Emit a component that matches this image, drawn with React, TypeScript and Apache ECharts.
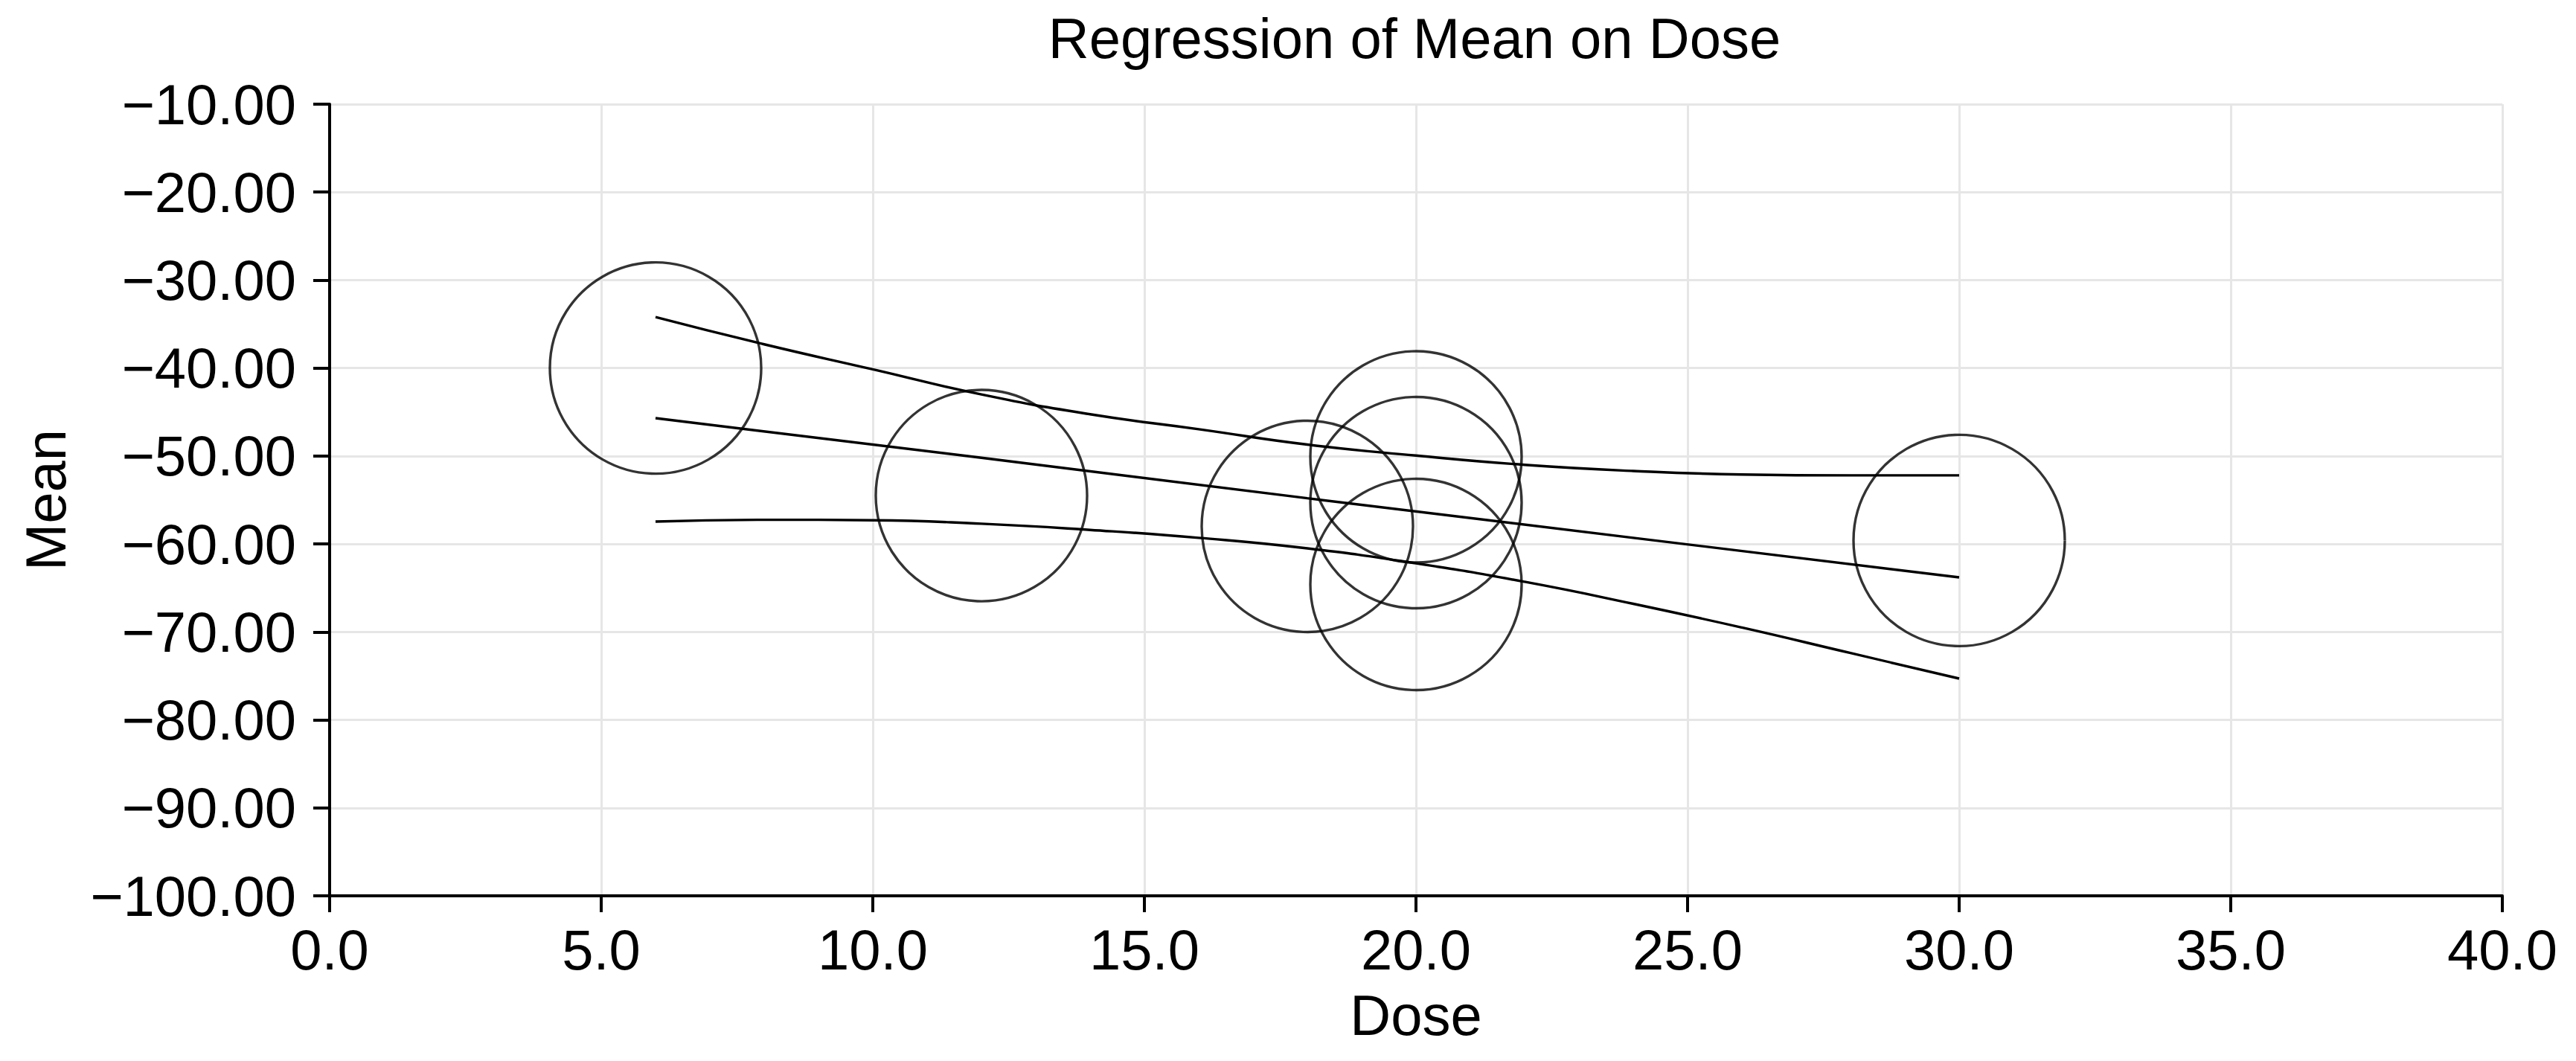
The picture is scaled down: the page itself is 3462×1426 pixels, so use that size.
import React, { useEffect, useRef } from "react";
import * as echarts from "echarts";

const titleText = "Regression of Mean on Dose";
const xName = "Dose";
const yName = "Mean";

// observed points (Dose, Mean)
const doses = [6, 12, 18, 20, 20, 20, 30];
const means = [-40.0, -54.5, -58.0, -50.1, -55.3, -64.6, -59.6];

// fitted regression line
const fitX = [6, 12, 18, 24, 30];
const fitY = [-45.7, -50.2, -54.8, -59.3, -63.8];

// confidence band (upper / lower)
const bandX = [6, 8, 10, 12, 14, 16, 18, 20, 22, 24, 26, 28, 30];
const upperY = [-34.2, -37.3, -40.15, -43.0, -45.25, -46.95, -48.7, -49.95, -51.0, -51.7, -52.1, -52.2, -52.2];
const lowerY = [-57.45, -57.25, -57.3, -57.7, -58.4, -59.3, -60.5, -62.2, -64.3, -66.8, -69.5, -72.4, -75.3];

const FONT = "'Liberation Sans', Arial, Helvetica, sans-serif";
const FS = 76;

export default function App() {
  const ref = useRef<HTMLDivElement>(null);

  useEffect(() => {
    if (!ref.current) return;
    const chart = echarts.init(ref.current, null, { renderer: "svg" });
    const pair = (xs: number[], ys: number[]) => xs.map((x, i) => [x, ys[i]]);
    const lineStyle = { color: "#000", width: 3.4 };
    chart.setOption({
      animation: false,
      backgroundColor: "#fff",
      textStyle: { fontFamily: FONT },
      title: {
        text: titleText,
        left: 1901,
        top: 13,
        padding: 0,
        textAlign: "center",
        textStyle: { fontFamily: FONT, fontSize: FS, fontWeight: "normal", color: "#000" },
      },
      grid: { left: 443, right: 99, top: 140, bottom: 222, containLabel: false },
      xAxis: {
        type: "value",
        min: 0,
        max: 40,
        interval: 5,
        name: xName,
        nameLocation: "middle",
        nameGap: 122,
        nameTextStyle: { fontFamily: FONT, fontSize: FS, color: "#000" },
        axisLine: { show: true, onZero: false, lineStyle: { color: "#000", width: 4 } },
        axisTick: { show: true, length: 22, lineStyle: { color: "#000", width: 4 } },
        axisLabel: {
          margin: 34,
          fontFamily: FONT,
          fontSize: FS,
          color: "#000",
          formatter: (v: number) => v.toFixed(1),
        },
        splitLine: { show: true, lineStyle: { color: "#e6e6e6", width: 3 } },
      },
      yAxis: {
        type: "value",
        min: -100,
        max: -10,
        interval: 10,
        name: yName,
        nameLocation: "middle",
        nameGap: 344,
        nameRotate: 90,
        nameTextStyle: { fontFamily: FONT, fontSize: FS, color: "#000" },
        axisLine: { show: true, onZero: false, lineStyle: { color: "#000", width: 4 } },
        axisTick: { show: true, length: 22, lineStyle: { color: "#000", width: 4 } },
        axisLabel: {
          margin: 45,
          fontFamily: FONT,
          fontSize: FS,
          color: "#000",
          formatter: (v: number) => v.toFixed(2).replace("-", "\u2212"),
        },
        splitLine: { show: true, lineStyle: { color: "#e6e6e6", width: 3 } },
      },
      series: [
        {
          name: "Upper",
          type: "line",
          data: pair(bandX, upperY),
          smooth: true,
          showSymbol: false,
          symbol: "none",
          lineStyle,
          z: 3,
        },
        {
          name: "Fit",
          type: "line",
          data: pair(fitX, fitY),
          smooth: false,
          showSymbol: false,
          symbol: "none",
          lineStyle,
          z: 3,
        },
        {
          name: "Lower",
          type: "line",
          data: pair(bandX, lowerY),
          smooth: true,
          showSymbol: false,
          symbol: "none",
          lineStyle,
          z: 3,
        },
        {
          name: "Observed",
          type: "scatter",
          data: pair(doses, means),
          symbol: "circle",
          symbolSize: 284,
          itemStyle: { color: "rgba(0,0,0,0)", borderColor: "#000", borderWidth: 3.4 },
          z: 4,
        },
      ],
    });
    return () => chart.dispose();
  }, []);

  return (
    <div
      ref={ref}
      style={{ position: "fixed", left: 0, top: 0, width: 3462, height: 1426, background: "#fff" }}
    />
  );
}
